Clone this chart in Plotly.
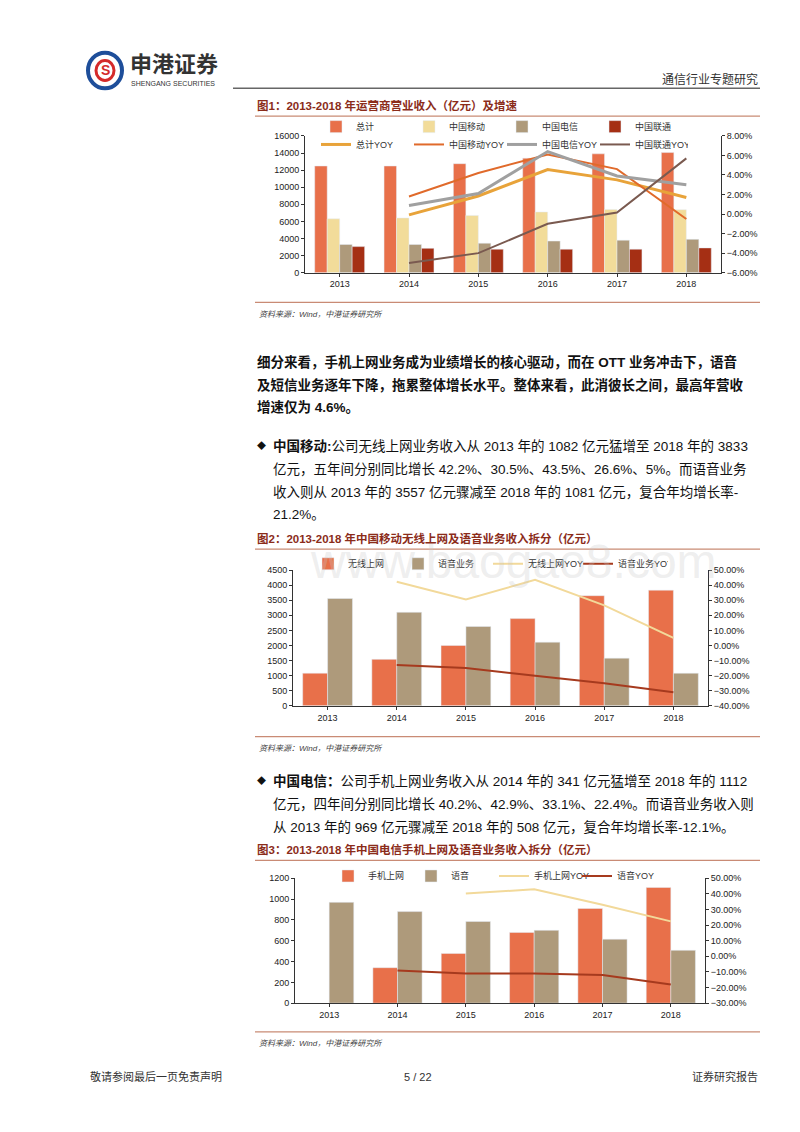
import plotly.graph_objects as go

W, H = 800, 1132

years = ["2013", "2014", "2015", "2016", "2017", "2018"]

# chart 1: operator revenue (100m yuan) and YOY (%)
total_rev = [12480, 12480, 12750, 13400, 13900, 14050]
cmcc_rev = [6300, 6400, 6700, 7100, 7400, 7370]
ct_rev = [3300, 3300, 3450, 3700, 3800, 3900]
cu_rev = [3050, 2850, 2750, 2750, 2750, 2900]
total_yoy = [None, -0.08, 1.85, 4.55, 3.5, 1.7]
cmcc_yoy = [None, 1.8, 4.2, 6.1, 4.6, -0.5]
ct_yoy = [None, 0.87, 2.1, 6.4, 3.9, 3.0]
cu_yoy = [None, -5.0, -4.0, -1.0, 0.15, 5.7]

# chart 2: China Mobile data vs voice
cm_data = [1082, 1540, 2000, 2890, 3650, 3833]
cm_voice = [3557, 3100, 2630, 2110, 1580, 1081]
cm_data_yoy = [None, 42.2, 30.5, 43.5, 26.6, 5.0]
cm_voice_yoy = [None, -13.0, -15.0, -20.0, -25.0, -31.0]

# chart 3: China Telecom data vs voice
ct_data = [None, 341, 478, 680, 910, 1112]
ct_voice = [969, 880, 785, 700, 615, 508]
ct_data_yoy = [None, None, 40.2, 42.9, 33.1, 22.4]
ct_voice_yoy = [None, -9.0, -11.0, -11.0, -12.0, -18.0]

ORANGE = "#E8704A"
BEIGE = "#F2DC9A"
TAUPE = "#AE9A7B"
DRED = "#A52F14"
TITLE_C = "#8B2C1A"
FONT = "Liberation Sans, Noto Sans CJK SC"


def px(x):
    return x / W


def py(y):
    return 1 - y / H


fig = go.Figure()

# ---- chart 1 (two legend rows: bars, lines)
for name, vals, c in [("总计", total_rev, ORANGE), ("中国移动", cmcc_rev, BEIGE),
                      ("中国电信", ct_rev, TAUPE), ("中国联通", cu_rev, DRED)]:
    fig.add_trace(go.Bar(x=years, y=vals, name=name, marker_color=c,
                         xaxis="x", yaxis="y", legend="legend"))
for name, vals, c, w in [("总计YOY", total_yoy, "#E8A33A", 3), ("中国移动YOY", cmcc_yoy, "#E06A2B", 2),
                         ("中国电信YOY", ct_yoy, "#A0A0A0", 3), ("中国联通YOY", cu_yoy, "#7A5A50", 2)]:
    fig.add_trace(go.Scatter(x=years, y=vals, name=name, mode="lines", line=dict(color=c, width=w),
                             xaxis="x", yaxis="y2", legend="legend4"))

# ---- chart 2
fig.add_trace(go.Bar(x=years, y=cm_data, name="无线上网", marker_color=ORANGE,
                     xaxis="x2", yaxis="y3", legend="legend2"))
fig.add_trace(go.Bar(x=years, y=cm_voice, name="语音业务", marker_color=TAUPE,
                     xaxis="x2", yaxis="y3", legend="legend2"))
fig.add_trace(go.Scatter(x=years, y=cm_data_yoy, name="无线上网YOY", mode="lines",
                         line=dict(color="#F2D99A", width=2), xaxis="x2", yaxis="y4", legend="legend2"))
fig.add_trace(go.Scatter(x=years, y=cm_voice_yoy, name="语音业务YOY", mode="lines",
                         line=dict(color="#A63A1E", width=2), xaxis="x2", yaxis="y4", legend="legend2"))

# ---- chart 3
fig.add_trace(go.Bar(x=years, y=ct_data, name="手机上网", marker_color=ORANGE,
                     xaxis="x3", yaxis="y5", legend="legend3"))
fig.add_trace(go.Bar(x=years, y=ct_voice, name="语音", marker_color=TAUPE,
                     xaxis="x3", yaxis="y5", legend="legend3"))
fig.add_trace(go.Scatter(x=years, y=ct_data_yoy, name="手机上网YOY", mode="lines",
                         line=dict(color="#F2D99A", width=2), xaxis="x3", yaxis="y6", legend="legend3"))
fig.add_trace(go.Scatter(x=years, y=ct_voice_yoy, name="语音YOY", mode="lines",
                         line=dict(color="#A63A1E", width=2), xaxis="x3", yaxis="y6", legend="legend3"))

tick = dict(size=9, color="#222", family=FONT)
ax_common = dict(showgrid=False, zeroline=False, showline=True, linecolor="#333", linewidth=1,
                 ticks="outside", ticklen=3, tickcolor="#333", tickfont=tick)


def xax(l, r, anchor):
    return dict(domain=[px(l), px(r)], anchor=anchor, type="category", **ax_common)


def yax(t, b, anchor, rng, dtick, side="left", fmt="d", overlay=None, pct=False):
    d = dict(domain=[py(b), py(t)], anchor=anchor, range=rng, dtick=dtick, side=side,
             tickformat=fmt, **ax_common)
    if pct:
        d["ticksuffix"] = "%"
    if overlay:
        d["overlaying"] = overlay
    return d


def leg(x, y, ew):
    return dict(orientation="h", x=px(x), y=py(y), xref="paper", yref="paper",
                xanchor="left", yanchor="top", bgcolor="rgba(0,0,0,0)",
                entrywidth=ew, entrywidthmode="pixels",
                font=dict(size=9, color="#333", family=FONT))


fig.update_layout(
    width=W, height=H, margin=dict(l=0, r=0, t=0, b=0),
    paper_bgcolor="white", plot_bgcolor="white",
    font=dict(family=FONT),
    barmode="group", bargap=0.28, bargroupgap=0.0,
    xaxis=xax(297, 713, "y"),
    yaxis=yax(124, 262, "x", [0, 16000], 2000),
    yaxis2=yax(124, 262, "x", [-6, 8], 2, side="right", fmt=".2f", overlay="y", pct=True),
    xaxis2=xax(285, 700, "y3"),
    yaxis3=yax(562, 699, "x2", [0, 4500], 500),
    yaxis4=yax(562, 699, "x2", [-40, 50], 10, side="right", fmt=".2f", overlay="y3", pct=True),
    xaxis3=xax(287, 697, "y5"),
    yaxis5=yax(873, 999, "x3", [0, 1200], 200),
    yaxis6=yax(873, 999, "x3", [-30, 50], 10, side="right", fmt=".2f", overlay="y5", pct=True),
    legend=leg(308, 100, 48),
    legend4=leg(308, 118, 48),
    legend2=leg(300, 541, 45),
    legend3=leg(320, 856, 38),
    showlegend=True,
)

shapes = []
ann = []


def line(x0, y0, x1, y1, color, w=1):
    shapes.append(dict(type="line", xref="paper", yref="paper", x0=px(x0), y0=py(y0),
                       x1=px(x1), y1=py(y1), line=dict(color=color, width=w)))


def text(x, y, s, size=13, color="#111", anchor="left", bold=False, italic=False):
    if bold:
        s = "<b>" + s + "</b>"
    if italic:
        s = "<i>" + s + "</i>"
    ann.append(dict(x=px(x), y=py(y), xref="paper", yref="paper", text=s, showarrow=False,
                    xanchor=anchor, yanchor="middle", font=dict(size=size, color=color, family=FONT)))


# header
shapes.append(dict(type="circle", xref="paper", yref="paper", x0=px(80), y0=py(76), x1=px(114), y1=py(40),
                   line=dict(color="#1E4E9A", width=4), fillcolor="white"))
shapes.append(dict(type="circle", xref="paper", yref="paper", x0=px(88), y0=py(68), x1=px(106), y1=py(48),
                   line=dict(color="#D42A2A", width=3), fillcolor="white"))
text(97, 58, "S", size=14, color="#D42A2A", anchor="center", bold=True)
text(120, 52, "申港证券", size=22, color="#333", bold=True)
text(121, 71, "SHENGANG SECURITIES", size=7, color="#333")
text(752, 67, "通信行业专题研究", size=12, color="#333", anchor="right")
line(225, 76, 752, 76, "#666", 1.5)

# watermark
text(505, 553, "www.baogao8.com", size=48, color="rgba(200,200,200,0.3)", anchor="center")

# figure titles and source lines
for ty, s in [(93, "图1：2013-2018 年运营商营业收入（亿元）及增速"),
              (530, "图2：2013-2018 年中国移动无线上网及语音业务收入拆分（亿元）"),
              (844, "图3：2013-2018 年中国电信手机上网及语音业务收入拆分（亿元）")]:
    text(247, ty, s, size=11.5, color=TITLE_C, bold=True)
    line(247, ty + 11, 752, ty + 11, "#C98B75", 1.2)
for sy in [304, 742, 1040]:
    line(247, sy - 12, 752, sy - 12, "#C98B75", 1.2)
    text(249, sy, "资料来源：Wind，中港证券研究所", size=8, color="#444", italic=True)

# body text
body = [
    (352, "细分来看，手机上网业务成为业绩增长的核心驱动，而在 OTT 业务冲击下，语音"),
    (375, "及短信业务逐年下降，拖累整体增长水平。整体来看，此消彼长之间，最高年营收"),
    (398, "增速仅为 4.6%。"),
]
for y, s in body:
    text(247, y, s, size=13.5, bold=True)

text(247, 437, "◆", size=9)
text(263, 437, "<b>中国移动:</b>公司无线上网业务收入从 2013 年的 1082 亿元猛增至 2018 年的 3833", size=13.5)
text(263, 460, "亿元，五年间分别同比增长 42.2%、30.5%、43.5%、26.6%、5%。而语音业务", size=13.5)
text(263, 483, "收入则从 2013 年的 3557 亿元骤减至 2018 年的 1081 亿元，复合年均增长率-", size=13.5)
text(263, 506, "21.2%。", size=13.5)

text(247, 775, "◆", size=9)
text(263, 775, "<b>中国电信：</b>公司手机上网业务收入从 2014 年的 341 亿元猛增至 2018 年的 1112", size=13.5)
text(263, 798, "亿元，四年间分别同比增长 40.2%、42.9%、33.1%、22.4%。而语音业务收入则", size=13.5)
text(263, 821, "从 2013 年的 969 亿元骤减至 2018 年的 508 亿元，复合年均增长率-12.1%。", size=13.5)

# footer
text(80, 1073, "敬请参阅最后一页免责声明", size=11, color="#333")
text(410, 1073, "5 / 22", size=11, color="#333", anchor="center")
text(752, 1073, "证券研究报告", size=11, color="#333", anchor="right")

fig.update_layout(shapes=shapes, annotations=ann)

fig.write_html("out.html")
